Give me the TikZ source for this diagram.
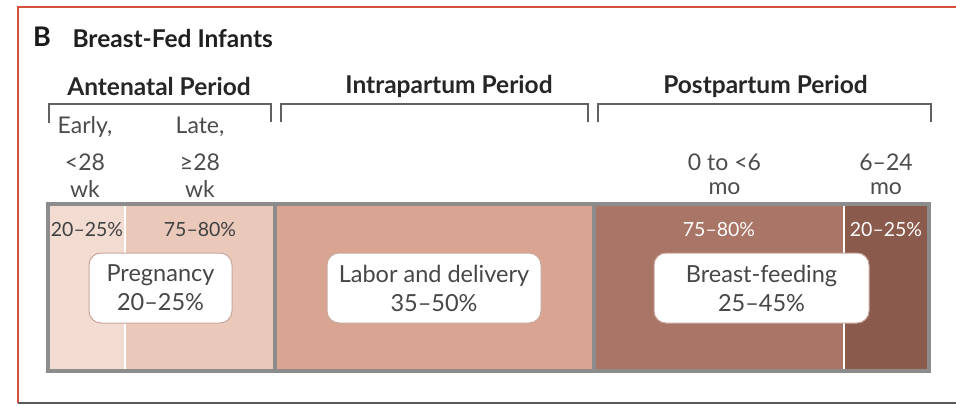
\documentclass[tikz,border=0pt]{standalone}
\usepackage{fontspec}
\setmainfont{Lato}
\begin{document}
\begin{tikzpicture}[x=1pt,y=-1pt,
  head/.style={font=\fontsize{24.5}{26}\selectfont\bfseries, text=black!85},
  sublabel/.style={font=\fontsize{23}{25}\selectfont, text=black!70},
  pct/.style={font=\fontsize{19.5}{21}\selectfont, text=black!75},
  pctw/.style={font=\fontsize{19.5}{21}\selectfont, text=white!95!pink},
  phase/.style={draw=boxedge, line width=1pt, fill=white, rounded corners=12pt,
    align=center, font=\fontsize{23.5}{29}\selectfont, text=black!72,
    minimum height=70pt, inner sep=0pt},
  brace/.style={draw=black!62, line width=1.5pt},
  divide/.style={draw=white, line width=2pt}]
\definecolor{early}{HTML}{F2DCD2}
\definecolor{late}{HTML}{EAC8BA}
\definecolor{intra}{HTML}{D9A592}
\definecolor{postA}{HTML}{A87566}
\definecolor{postB}{HTML}{8A5B4C}
\definecolor{rim}{HTML}{8C8C8C}
\definecolor{boxedge}{HTML}{C9A59B}
\definecolor{frame}{HTML}{D9503A}

% page and frame
\useasboundingbox (0,0) rectangle (956,405);
\fill[white] (0,0) rectangle (956,405);
\draw[frame, line width=1.3pt] (18,403) -- (18,7) -- (956,7);
\draw[black!65, line width=2pt] (18,403) -- (956,403);

% title
\node[font=\fontsize{27}{29}\selectfont\bfseries, text=black!90] (tag) at (42,37) {B};
\node[anchor=west, font=\fontsize{24.5}{26}\selectfont\bfseries, text=black!88] (title) at (69,38) {Breast-Fed Infants};

% period headers
\node[head] (hA) at (159,86) {Antenatal Period};
\node[head] (hI) at (449,86) {Intrapartum Period};
\node[head] (hP) at (765.5,86) {Postpartum Period};

% brackets
\draw[brace] (49,123) -- (49,104) -- (271,104) -- (271,122);
\draw[brace] (281,122) -- (281,104) -- (588,104) -- (588,122);
\draw[brace] (598,122) -- (598,104) -- (931,104) -- (931,122);

% sub-period labels
\node[sublabel] (early) at (85,127) {Early,};
\node[sublabel] (late) at (200,127) {Late,};
\node[sublabel] (e28) at (85,162) {<28};
\node[sublabel] (l28) at (200,162) {≥28};
\node[sublabel] (ewk) at (85,189) {wk};
\node[sublabel] (lwk) at (200,189) {wk};
\node[sublabel] (p06) at (724.5,162) {0 to <6};
\node[sublabel] (pmo1) at (724.5,189) {mo};
\node[sublabel] (p624) at (886,162) {6–24};
\node[sublabel] (pmo2) at (886,189) {mo};

% coloured bands
\fill[early] (48,204) rectangle (125,371);
\fill[late] (125,204) rectangle (275,371);
\fill[intra] (275,204) rectangle (594,371);
\fill[postA] (594,204) rectangle (844,371);
\fill[postB] (844,204) rectangle (929,371);
\draw[divide] (125,206) -- (125,369);
\draw[divide] (844,206) -- (844,369);
\draw[rim, line width=4pt] (275,204) -- (275,371);
\draw[rim, line width=4pt] (594,204) -- (594,371);
\draw[rim, line width=4pt] (48,204) rectangle (929,371);

% shares within periods
\node[pct] (sE) at (87,230) {20–25\%};
\node[pct] (sL) at (200,230) {75–80\%};
\node[pctw] (sP1) at (719,230) {75–80\%};
\node[pctw] (sP2) at (886,230) {20–25\%};

% period boxes
\node[phase, minimum width=143pt] (preg) at (160.5,288) {Pregnancy\\20–25\%};
\node[phase, minimum width=214pt] (labor) at (434,288) {Labor and delivery\\35–50\%};
\node[phase, minimum width=215pt] (bf) at (761.5,288) {Breast-feeding\\25–45\%};
\end{tikzpicture}
\end{document}
